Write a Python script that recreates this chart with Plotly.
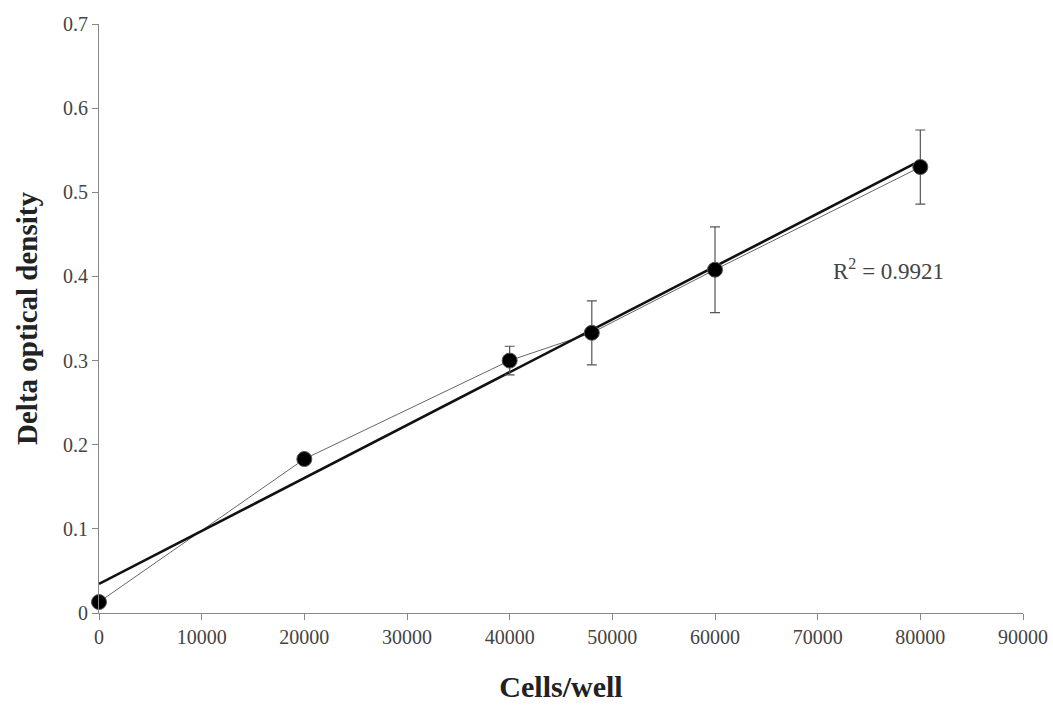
import numpy as np
import plotly.graph_objects as go

cells = [0, 20000, 40000, 48000, 60000, 80000]
delta_od = [0.013, 0.183, 0.300, 0.333, 0.408, 0.530]
od_error = [0.004, 0.004, 0.017, 0.038, 0.051, 0.044]
x_ticks = [0, 10000, 20000, 30000, 40000, 50000, 60000, 70000, 80000, 90000]
y_ticks = [0, 0.1, 0.2, 0.3, 0.4, 0.5, 0.6, 0.7]
r2_label = "R<sup>2</sup> = 0.9921"

slope, intercept = np.polyfit(cells, delta_od, 1)
fit_x = [cells[0], cells[-1]]
fit_y = [slope * v + intercept for v in fit_x]

fig = go.Figure()
fig.add_trace(go.Scatter(
    x=cells, y=delta_od, mode="lines",
    line=dict(color="#666666", width=1),
    hoverinfo="skip", showlegend=False, cliponaxis=False))
fig.add_trace(go.Scatter(
    x=fit_x, y=fit_y, mode="lines",
    line=dict(color="#111111", width=2.6),
    showlegend=False, cliponaxis=False))
fig.add_trace(go.Scatter(
    x=cells, y=delta_od, mode="markers",
    marker=dict(color="#000000", size=15, line=dict(color="#555555", width=1)),
    error_y=dict(type="data", array=od_error, visible=True,
                 color="#555555", thickness=1.2, width=5),
    showlegend=False, cliponaxis=False))

fig.add_annotation(x=71300, y=0.408, text=r2_label, showarrow=False,
                   xanchor="left", yanchor="middle",
                   font=dict(family="Liberation Serif", size=23, color="#444444"))

axis_font = dict(family="Liberation Serif", size=20, color="#444444")
fig.update_layout(
    width=1053, height=707,
    margin=dict(l=99, r=30, t=24, b=94),
    paper_bgcolor="white", plot_bgcolor="white",
    xaxis=dict(range=[0, 90000], tickvals=x_ticks,
               ticktext=[str(v) for v in x_ticks],
               showgrid=False, zeroline=False, showline=True,
               linecolor="#888888", linewidth=1, automargin=False,
               ticks="outside", ticklen=6, tickcolor="#888888",
               tickfont=axis_font, ticklabeloverflow="allow",
               title=dict(text="<b>Cells/well</b>", standoff=28,
                          font=dict(family="Liberation Serif", size=30, color="#222222"))),
    yaxis=dict(range=[0, 0.7], tickvals=y_ticks,
               ticktext=["0", "0.1", "0.2", "0.3", "0.4", "0.5", "0.6", "0.7"],
               showgrid=False, zeroline=False, showline=True,
               linecolor="#888888", linewidth=1, automargin=False,
               ticks="outside", ticklen=6, tickcolor="#888888",
               tickfont=axis_font,
               title=dict(text="<b>Delta optical density</b>", standoff=16,
                          font=dict(family="Liberation Serif", size=29, color="#222222"))),
)

fig.write_html("out.html", config={"displayModeBar": False},
               post_script="document.body.style.margin='0';document.body.style.overflow='hidden';")
